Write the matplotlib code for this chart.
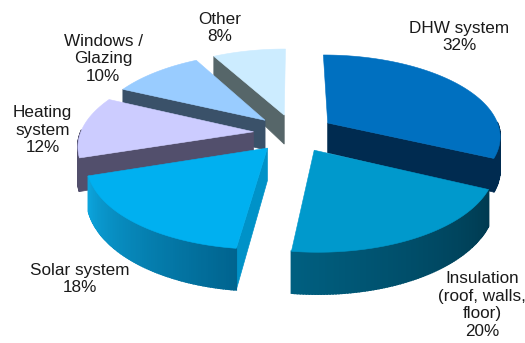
import numpy as np
import matplotlib
matplotlib.use("Agg")
import matplotlib.pyplot as plt

plt.rcParams['font.family'] = ['Liberation Sans', 'DejaVu Sans']

# data
labels = ["DHW system", "Insulation\n(roof, walls,\nfloor)", "Solar system",
          "Heating\nsystem", "Windows /\nGlazing", "Other"]
values = [32, 20, 18, 12, 10, 8]

# colours
top_colors = ["#0070c0", "#0099cc", "#00b0f0", "#ccccff", "#99ccff", "#ccecff"]
cut_colors = ["#002b50", "#003c52", "#0092c8", "#524f6c", "#3a5169", "#566669"]
rim_start = ["#002b50", "#003a50", "#00648f", "#524f6c", "#3a5169", "#566669"]
rim_end = ["#002b50", "#005f80", "#0ca4dc", "#524f6c", "#3a5169", "#566669"]
label_pos = [(459.5, 37), (482, 305), (80, 279), (42.5, 130), (103, 59), (220, 28)]

# projection of the tilted pie, in pixels
CX, CY = 294, 133
A, B, K = 173, 81, 0.15
EXPLODE = 0.235


def project(X, Y):
    s = 1 + K * Y
    return CX + A * X / s, CY - B * Y / s


def depth(Y):
    return 31 - 9 * Y


fig = plt.figure(figsize=(5.25, 3.43), dpi=100)
ax = fig.add_axes([0, 0, 1, 1])
ax.set_xlim(0, 525)
ax.set_ylim(343, 0)
ax.axis("off")

edges = np.cumsum([0] + values) * 3.6
order = [5, 4, 3, 0, 2, 1]  # back to front

for z, i in enumerate(order):
    a, b = np.radians(edges[i]), np.radians(edges[i + 1])
    mid = (a + b) / 2
    ox, oy = EXPLODE * np.sin(mid), EXPLODE * np.cos(mid)
    th = np.linspace(a, b, 90)
    rx, ry = ox + np.sin(th), oy + np.cos(th)
    px, py = project(rx, ry)
    ax0, ay0 = project(ox, oy)
    d0 = depth(oy)
    dr = depth(ry)

    # cut faces
    if np.sin(b) > 0:
        ax.fill([ax0, px[-1], px[-1], ax0], [ay0, py[-1], py[-1] + dr[-1], ay0 + d0],
                color=cut_colors[i], lw=0.5, zorder=z * 3)
    if np.sin(a) < 0:
        ax.fill([ax0, px[0], px[0], ax0], [ay0, py[0], py[0] + dr[0], ay0 + d0],
                color=cut_colors[i], lw=0.5, zorder=z * 3)

    # outer rim, one strip per step so it can shade
    c0 = np.array(matplotlib.colors.to_rgb(rim_start[i]))
    c1 = np.array(matplotlib.colors.to_rgb(rim_end[i]))
    for j in range(len(th) - 1):
        if np.cos(th[j]) > 0.02:
            continue
        t = j / (len(th) - 2)
        col = c0 + (c1 - c0) * t
        ax.fill([px[j], px[j + 1], px[j + 1], px[j]],
                [py[j], py[j + 1], py[j + 1] + dr[j + 1], py[j] + dr[j]],
                color=col, lw=1.2, zorder=z * 3 + 1)

    # top face
    ax.fill(np.r_[ax0, px], np.r_[ay0, py], color=top_colors[i], lw=0.4, zorder=z * 3 + 2)

for lab, val, (lx, ly) in zip(labels, values, label_pos):
    ax.text(lx, ly, f"{lab}\n{val}%", ha="center", va="center", fontsize=12.3,
            linespacing=1.2, color="#1a1a1a", zorder=50)

fig.savefig("out.png", dpi=100)
